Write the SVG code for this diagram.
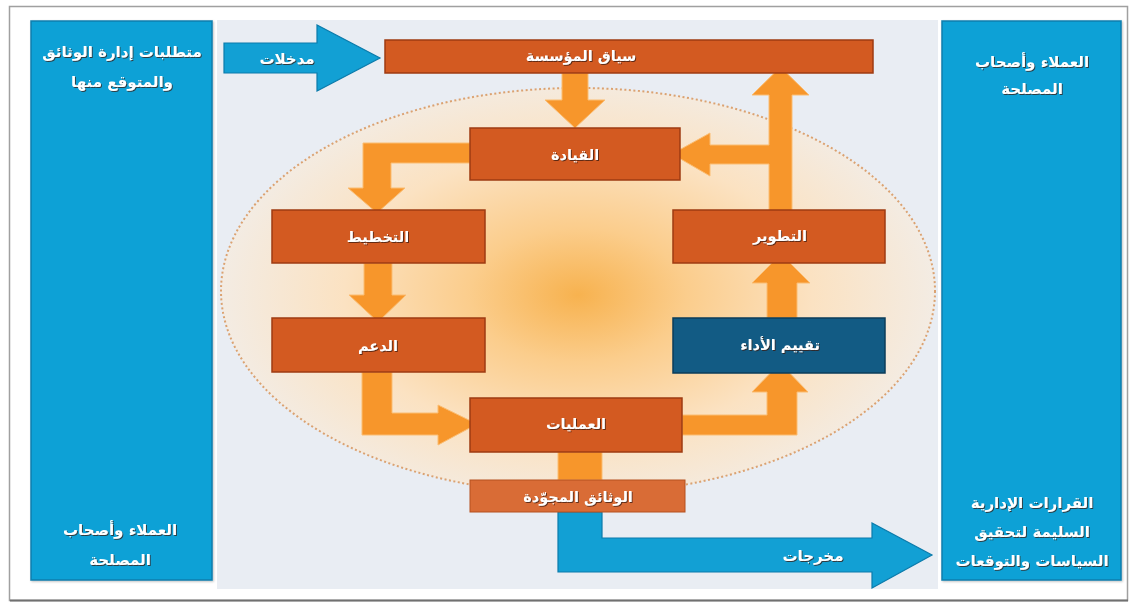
<svg xmlns="http://www.w3.org/2000/svg" width="1134" height="604" viewBox="0 0 1134 604">
<defs>
<radialGradient id="glow" cx="578" cy="295" r="360" gradientUnits="userSpaceOnUse" gradientTransform="translate(578 295) scale(1 0.62) translate(-578 -295)">
<stop offset="0" stop-color="#f7b24f"/>
<stop offset="0.3" stop-color="#fbcd8c"/>
<stop offset="0.65" stop-color="#fbe2c2"/>
<stop offset="1" stop-color="#f3ece4"/>
</radialGradient>
<filter id="ts" x="-10%" y="-30%" width="120%" height="160%">
<feDropShadow dx="1" dy="1" stdDeviation="0.6" flood-color="#3a1a08" flood-opacity="0.75"/>
</filter>
<filter id="sh" x="-5%" y="-5%" width="110%" height="110%">
<feDropShadow dx="1" dy="1" stdDeviation="1" flood-color="#000" flood-opacity="0.25"/>
</filter>
</defs>
<style>
.lbl{font-family:"DejaVu Sans",sans-serif;font-weight:bold;fill:#fff;text-anchor:middle;dominant-baseline:central;filter:url(#ts)}
.n{font-size:14.5px}
.p{font-size:15px}
.node{fill:#d35a21;stroke:#9e3b12;stroke-width:1.5}
.nodeb{fill:#125b84;stroke:#0b3c5a;stroke-width:1.5}
.nodel{fill:#d96c36;stroke:#b5501f;stroke-width:1}
.oa{fill:#f7962b;stroke:#fbbd72;stroke-width:1}
.ba{fill:#12a0d4;stroke:#0b7bab;stroke-width:1.2}
.panel{fill:#0ba1d6;stroke:#0a7ead;stroke-width:1.5}
</style>
<rect x="0" y="0" width="1134" height="604" fill="#fff"/>
<rect x="9.5" y="6.5" width="1118" height="594" fill="#fff" stroke="#a0a0a0" stroke-width="1.5"/>
<line x1="10" y1="600.5" x2="1128" y2="600.5" stroke="#707070" stroke-width="2"/>
<rect x="217" y="20" width="721" height="569" fill="#e9edf3"/>
<ellipse cx="578" cy="291" rx="357" ry="203" fill="url(#glow)"/>
<ellipse cx="578" cy="291" rx="357" ry="203" fill="none" stroke="#dba271" stroke-width="2" stroke-dasharray="2 2.5"/>

<g id="panel-left">
<rect class="panel" x="31" y="21" width="181" height="559" filter="url(#sh)"/>
<text class="lbl p" x="122" y="52">متطلبات إدارة الوثائق</text>
<text class="lbl p" x="122" y="82">والمتوقع منها</text>
<text class="lbl p" x="120" y="530">العملاء وأصحاب</text>
<text class="lbl p" x="120" y="560">المصلحة</text>
</g>
<g id="panel-right">
<rect class="panel" x="942" y="21" width="179" height="559" filter="url(#sh)"/>
<text class="lbl p" x="1032" y="62">العملاء وأصحاب</text>
<text class="lbl p" x="1032" y="89">المصلحة</text>
<text class="lbl p" x="1032" y="503">القرارات الإدارية</text>
<text class="lbl p" x="1032" y="532">السليمة لتحقيق</text>
<text class="lbl p" x="1032" y="561">السياسات والتوقعات</text>
</g>

<g id="connectors">
<polygon class="ba" points="224,43 317,43 317,25 380,58 317,91 317,73 224,73"/>
<text class="lbl p" x="287" y="59">مدخلات</text>
<polygon class="ba" points="558,512 602,512 602,538 872,538 872,523 932,555 872,588 872,572 558,572"/>
<text class="lbl p" x="813" y="556">مخرجات</text>
<polygon class="oa" points="562,73 588,73 588,100 605,100 575,128 545,100 562,100"/>
<polygon class="oa" points="769,212 769,164 710,164 710,176 672,154 710,133 710,145 769,145 769,95 752,95 780.5,67 809,95 792,95 792,212"/>
<polygon class="oa" points="470,143 470,163 391,163 391,188 405,188 377,213 348,188 363,188 363,143"/>
<polygon class="oa" points="364,263 392,263 392,295 406,295 378,322 349,295 364,295"/>
<polygon class="oa" points="362,372 392,372 392,413 438,413 438,405 477,424 438,445 438,435 362,435"/>
<polygon class="oa" points="682,415 767,415 767,392 752,392 780,363 808,392 797,392 797,435 682,435"/>
<polygon class="oa" points="767,318 797,318 797,283 810,283 781,254 752,283 767,283"/>
<rect class="oa" x="558" y="452" width="44" height="28"/>
</g>

<g id="n-context"><rect class="node" x="385" y="40" width="488" height="33"/><text class="lbl n" x="581" y="56">سياق المؤسسة</text></g>
<g id="n-leadership"><rect class="node" x="470" y="128" width="210" height="52"/><text class="lbl n" x="575" y="155">القيادة</text></g>
<g id="n-planning"><rect class="node" x="272" y="210" width="213" height="53"/><text class="lbl n" x="378" y="237">التخطيط</text></g>
<g id="n-support"><rect class="node" x="272" y="318" width="213" height="54"/><text class="lbl n" x="378" y="346">الدعم</text></g>
<g id="n-operations"><rect class="node" x="470" y="398" width="212" height="54"/><text class="lbl n" x="576" y="424">العمليات</text></g>
<g id="n-documents"><rect class="nodel" x="470" y="480" width="215" height="32"/><text class="lbl n" x="578" y="497">الوثائق المجوّدة</text></g>
<g id="n-improvement"><rect class="node" x="673" y="210" width="212" height="53"/><text class="lbl n" x="780" y="236">التطوير</text></g>
<g id="n-evaluation"><rect class="nodeb" x="673" y="318" width="212" height="55"/><text class="lbl n" x="780" y="345">تقييم الأداء</text></g>
</svg>
